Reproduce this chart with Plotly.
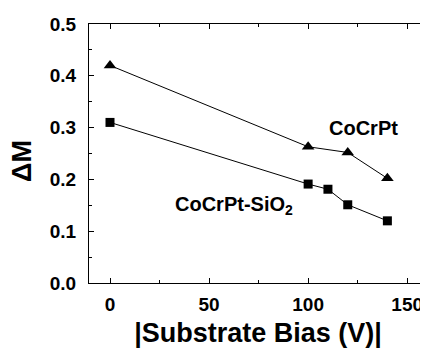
import plotly.graph_objects as go

bias_cocrpt = [0, 100, 120, 140]
dm_cocrpt = [0.42, 0.263, 0.252, 0.202]
bias_sio2 = [0, 100, 110, 120, 140]
dm_sio2 = [0.31, 0.191, 0.181, 0.151, 0.12]

x_ticks = [0, 50, 100, 150]
x_ticktext = ["0", "50", "100", "150"]
y_ticks = [0.0, 0.1, 0.2, 0.3, 0.4, 0.5]
y_ticktext = ["0.0", "0.1", "0.2", "0.3", "0.4", "0.5"]

FONT = "Liberation Sans, Arial, sans-serif"

fig = go.Figure()
fig.add_trace(go.Scatter(x=bias_cocrpt, y=dm_cocrpt, mode="lines+markers",
                         line=dict(color="black", width=1),
                         marker=dict(symbol="triangle-up", size=11, color="black"),
                         name="CoCrPt"))
fig.add_trace(go.Scatter(x=bias_sio2, y=dm_sio2, mode="lines+markers",
                         line=dict(color="black", width=1),
                         marker=dict(symbol="square", size=9, color="black"),
                         name="CoCrPt-SiO2"))

fig.add_annotation(x=128, y=0.299, text="<b>CoCrPt</b>", showarrow=False,
                   font=dict(family=FONT, size=20, color="black"))
fig.add_annotation(x=62.6, y=0.156, text="<b>CoCrPt-SiO<sub>2</sub></b>", showarrow=False,
                   yshift=-3, font=dict(family=FONT, size=20, color="black"))
# y-axis title
fig.add_annotation(xref="paper", yref="paper", x=0, y=0.471, xshift=-67,
                   xanchor="center", yanchor="middle", textangle=-90,
                   text="<b>ΔM</b>", showarrow=False,
                   font=dict(family=FONT, size=27, color="black"))

axis_common = dict(showline=True, linecolor="black", linewidth=1, mirror="ticks",
                   ticks="inside", ticklen=5, tickcolor="black", showgrid=False,
                   zeroline=False, automargin=False,
                   tickfont=dict(family=FONT, size=19, color="black"))

fig.update_xaxes(range=[-10.6, 160], tickvals=x_ticks,
                 ticktext=["<b>%s</b>" % t for t in x_ticktext],
                 ticklabelstandoff=4,
                 minor=dict(ticks="inside", ticklen=3, dtick=25, tick0=0, tickcolor="black"),
                 title=dict(text="<b>|Substrate Bias (V)|</b>",
                            font=dict(family=FONT, size=27, color="black"), standoff=10),
                 **axis_common)
fig.update_yaxes(range=[0, 0.5], tickvals=y_ticks,
                 ticktext=["<b>%s</b>" % t for t in y_ticktext],
                 ticklabelstandoff=8,
                 minor=dict(ticks="inside", ticklen=3, dtick=0.05, tick0=0, tickcolor="black"),
                 **axis_common)

fig.update_layout(width=420, height=340, showlegend=False,
                  margin=dict(l=81, r=1, t=16, b=65),
                  plot_bgcolor="white", paper_bgcolor="white")
fig.write_html("out.html")
